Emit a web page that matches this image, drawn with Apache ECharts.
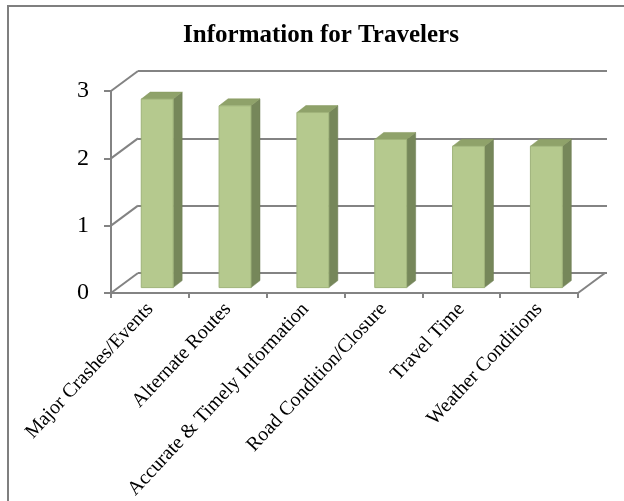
<!DOCTYPE html>
<html>
<head>
<meta charset="utf-8">
<script src="https://cdn.jsdelivr.net/npm/echarts@6/dist/echarts.min.js"></script>
<style>
  html, body { margin: 0; padding: 0; background: #fff; }
  #chart { width: 624px; height: 501px; }
</style>
</head>
<body>
<div id="chart"></div>
<script>
// ---- data ----
var categories = ['Major Crashes/Events', 'Alternate Routes', 'Accurate & Timely Information', 'Road Condition/Closure', 'Travel Time', 'Weather Conditions'];
var values = [2.8, 2.7, 2.6, 2.2, 2.1, 2.1];
var yTicks = [0, 1, 2, 3];
var titleText = 'Information for Travelers';

// ---- style constants ----
var GRAY = '#838383';
var FONT = '"Liberation Serif", "Times New Roman", serif';
var DEPTH_X = 27, DEPTH_Y = -20;       // floor depth offset (front -> back wall)
var BAR_F = 0.27;                       // bar position within depth
var BAR_DX = 9, BAR_DY = -7;            // bar own depth
var BAR_W = 0.41;                       // bar width as fraction of category

var chart = echarts.init(document.getElementById('chart'), null, { renderer: 'canvas' });

function diagRender(params, api) {
  var v = api.value(1);
  var p = api.coord([0, v]);
  var half = api.size([1, 0])[0] / 2;
  var x0 = p[0] - half;
  var children = [{
    type: 'line',
    shape: { x1: x0, y1: p[1], x2: x0 + DEPTH_X, y2: p[1] + DEPTH_Y },
    style: { stroke: GRAY, lineWidth: 2 }
  }];
  if (v === 0) {
    var q = api.coord([categories.length - 1, 0]);
    var x1 = q[0] + half;
    children.push({
      type: 'line',
      shape: { x1: x1, y1: q[1], x2: x1 + DEPTH_X, y2: q[1] + DEPTH_Y },
      style: { stroke: GRAY, lineWidth: 2 }
    });
  }
  return { type: 'group', children: children };
}

function barRender(params, api) {
  var i = api.value(0), v = api.value(1);
  var base = api.coord([i, 0]);
  var top = api.coord([i, v]);
  var w = api.size([1, 0])[0] * BAR_W;
  var ox = DEPTH_X * BAR_F, oy = DEPTH_Y * BAR_F;
  var xl = base[0] - w / 2 + ox, xr = base[0] + w / 2 + ox;
  var yb = base[1] + oy, yt = top[1] + oy;
  return {
    type: 'group',
    children: [
      { type: 'polygon', shape: { points: [[xr, yt], [xr + BAR_DX, yt + BAR_DY], [xr + BAR_DX, yb + BAR_DY], [xr, yb]] },
        style: { fill: '#76875a', stroke: '#6f7f55', lineWidth: 0.5 } },
      { type: 'polygon', shape: { points: [[xl, yt], [xr, yt], [xr + BAR_DX, yt + BAR_DY], [xl + BAR_DX, yt + BAR_DY]] },
        style: { fill: '#8fa26a', stroke: '#86985f', lineWidth: 0.5 } },
      { type: 'rect', shape: { x: xl, y: yt, width: xr - xl, height: yb - yt },
        style: { fill: '#b5c98e', stroke: '#9fb37a', lineWidth: 1 } }
    ]
  };
}

var option = {
  animation: false,
  backgroundColor: '#ffffff',
  title: {
    text: titleText,
    left: 316, top: 18, textAlign: 'center',
    textStyle: { fontFamily: FONT, fontSize: 25, fontWeight: 'bold', color: '#000' }
  },
  graphic: [{
    type: 'rect', silent: true,
    shape: { x: 8, y: 6, width: 700, height: 600 },
    style: { fill: 'none', stroke: '#7f7f7f', lineWidth: 2 }
  }],
  grid: [
    { left: 111, right: 46, top: 91, bottom: 208, containLabel: false, outerBoundsMode: 'none' },
    { left: 138, right: 17, top: 71, bottom: 228, containLabel: false, outerBoundsMode: 'none' }
  ],
  xAxis: [
    {
      type: 'category', gridIndex: 0, data: categories,
      axisLine: { show: true, lineStyle: { color: GRAY, width: 2 } },
      axisTick: { show: true, length: 5, lineStyle: { color: GRAY, width: 2 } },
      axisLabel: { interval: 0, rotate: 47, margin: 13, fontFamily: FONT, fontSize: 20, color: '#000' },
      splitLine: { show: false }
    },
    {
      type: 'category', gridIndex: 1, data: categories, show: false
    }
  ],
  yAxis: [
    {
      type: 'value', gridIndex: 0, min: 0, max: 3, interval: 1,
      axisLine: { show: true, lineStyle: { color: GRAY, width: 2 } },
      axisTick: { show: true, length: 7, lineStyle: { color: GRAY, width: 2 } },
      axisLabel: { margin: 22, fontFamily: FONT, fontSize: 24, color: '#000' },
      splitLine: { show: false }
    },
    {
      type: 'value', gridIndex: 1, min: 0, max: 3, interval: 1,
      axisLine: { show: false }, axisTick: { show: false }, axisLabel: { show: false },
      splitLine: { show: true, lineStyle: { color: GRAY, width: 2 } }
    }
  ],
  series: [
    {
      type: 'custom', xAxisIndex: 0, yAxisIndex: 0, z: 1,
      renderItem: diagRender,
      data: yTicks.map(function (t) { return [0, t]; })
    },
    {
      type: 'custom', xAxisIndex: 0, yAxisIndex: 0, z: 5,
      renderItem: barRender,
      data: values.map(function (v, i) { return [i, v]; })
    }
  ]
};
chart.setOption(option);
</script>
</body>
</html>
